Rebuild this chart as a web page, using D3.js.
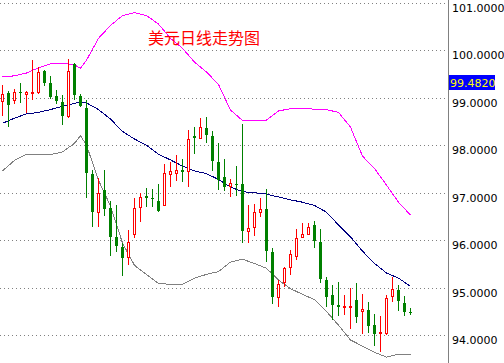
<!DOCTYPE html>
<html lang="zh">
<head>
  <meta charset="UTF-8">
  <title>美元日线走势图</title>
  <script src="https://d3js.org/d3.v7.min.js"></script>
  <style>
    body { margin: 0; background: #fff; }
  </style>
</head>
<body>
  <div class="canvas"></div>
  <script>
    const title = '美元日线走势图';
    const lastPrice = 99.482;
    const tickLabels = [94, 95, 96, 97, 98, 99, 100, 101];

    // daily candles, oldest first
    const opens  = [98.92, 99.09, 98.96, 99.11, 99.08, 99.10, 99.12, 99.56, 99.31, 99.04,
                    98.91, 98.61, 99.70, 99.04, 98.79, 97.40, 96.60, 97.05, 96.67, 96.07,
                    95.86, 95.65, 96.12, 96.70, 96.93, 96.88, 96.83, 96.74, 97.40, 97.42,
                    97.48, 97.46, 98.19, 98.16, 98.36, 98.19, 97.64, 97.34, 97.14, 97.19,
                    97.19, 96.19, 96.28, 96.60, 96.65, 95.76, 94.81, 95.11, 95.44, 95.67,
                    96.07, 96.14, 96.33, 95.96, 95.16, 94.84, 94.63, 94.59, 94.60, 94.74,
                    94.52, 94.53, 94.21, 94.04, 94.04, 94.82, 94.95, 94.67, 94.49];
    const highs  = [99.27, 99.14, 99.19, 99.32, 99.15, 99.79, 99.64, 99.59, 99.46, 99.17,
                    99.05, 99.81, 99.73, 99.07, 98.95, 97.47, 97.30, 97.48, 96.82, 96.74,
                    95.94, 96.22, 96.88, 96.99, 97.10, 97.08, 97.18, 97.61, 97.64, 97.79,
                    97.72, 98.32, 98.38, 98.58, 98.59, 98.29, 98.04, 97.70, 97.28, 97.56,
                    98.45, 96.74, 96.77, 96.88, 97.08, 95.83, 95.17, 95.44, 95.79, 96.23,
                    96.37, 96.37, 96.40, 96.24, 95.22, 95.05, 95.12, 94.84, 95.00, 95.09,
                    94.86, 94.70, 94.45, 94.41, 94.84, 95.22, 95.05, 94.83, 94.58];
    const lows   = [98.62, 98.39, 98.86, 98.88, 98.67, 98.95, 99.07, 99.24, 98.97, 98.87,
                    98.43, 98.57, 98.95, 98.80, 96.88, 96.28, 96.28, 96.50, 95.66, 95.75,
                    95.25, 95.47, 96.05, 96.39, 96.69, 96.70, 96.60, 96.72, 97.13, 97.24,
                    97.23, 97.13, 97.82, 98.12, 98.04, 97.46, 97.05, 97.03, 96.90, 96.92,
                    95.94, 95.94, 96.09, 96.48, 95.55, 94.66, 94.60, 95.02, 95.26, 95.58,
                    96.06, 96.13, 95.83, 95.09, 94.60, 94.32, 94.40, 94.42, 94.14, 94.26,
                    94.03, 94.05, 93.78, 93.65, 94.00, 94.70, 94.52, 94.40, 94.42];
    const closes = [99.07, 98.84, 99.11, 99.09, 99.11, 99.12, 99.54, 99.31, 99.02, 98.93,
                    98.62, 99.56, 99.05, 98.82, 97.42, 96.60, 97.00, 96.66, 96.07, 95.87,
                    95.63, 95.97, 96.67, 96.90, 96.88, 96.86, 96.62, 97.41, 97.45, 97.47,
                    97.44, 98.12, 98.15, 98.38, 98.21, 97.67, 97.26, 97.12, 97.21, 97.17,
                    96.19, 96.26, 96.59, 96.65, 95.77, 94.81, 95.07, 95.41, 95.70, 96.05,
                    96.12, 96.28, 95.99, 95.19, 94.81, 94.63, 94.59, 94.61, 94.62, 94.39,
                    94.55, 94.19, 94.03, 94.07, 94.79, 94.97, 94.72, 94.49, 94.47];

    // bollinger bands, read at these candle positions
    const bandIdx   = [0, 2, 4, 6, 8, 10, 12, 13, 14, 16, 18, 20, 22, 24, 26, 28, 30, 32,
                       34, 36, 38, 40, 42, 44, 46, 48, 50, 52, 54, 56, 58, 60, 62, 64, 66, 68];
    const upperBand = [99.44, 99.46, 99.52, 99.63, 99.71, 99.73, 99.69, 99.62, 99.79, 100.25,
                       100.52, 100.73, 100.79, 100.73, 100.55, 100.25, 100.04, 99.75, 99.54, 99.28,
                       98.74, 98.52, 98.51, 98.53, 98.72, 98.77, 98.77, 98.76, 98.75, 98.69,
                       98.38, 97.77, 97.51, 97.16, 96.80, 96.53];
    const midBand   = [98.46, 98.57, 98.66, 98.69, 98.75, 98.82, 98.88, 98.91, 98.89, 98.75,
                       98.55, 98.29, 98.13, 98.00, 97.81, 97.69, 97.56, 97.46, 97.40, 97.28,
                       97.12, 97.02, 97.00, 96.97, 96.91, 96.85, 96.80, 96.73, 96.59, 96.32,
                       96.07, 95.77, 95.51, 95.31, 95.20, 95.03];
    const lowerBand = [97.46, 97.68, 97.81, 97.80, 97.80, 97.86, 98.04, 98.20, 98.00, 97.26,
                       96.72, 95.94, 95.47, 95.28, 95.09, 95.07, 95.07, 95.20, 95.28, 95.34,
                       95.54, 95.60, 95.51, 95.41, 95.16, 94.98, 94.86, 94.75, 94.50, 94.21,
                       93.90, 93.77, 93.64, 93.54, 93.60, 93.60];

    const width = 504, height = 363;
    const axisX = 448;

    const svg = d3.select('.canvas')
      .append('svg')
      .attr('width', width)
      .attr('height', height)
      .style('display', 'block');

    const x = d3.scaleLinear().domain([0, opens.length - 1]).range([2.5, 410.5]);
    const y = d3.scaleLinear().domain([94, 101]).range([335.2, 2.7]);
    const px = i => Math.floor(x(i)) + 0.5;

    // dotted grid
    svg.append('g')
      .selectAll('line')
      .data(tickLabels)
      .join('line')
      .attr('x1', 0)
      .attr('x2', axisX)
      .attr('y1', d => Math.round(y(d)) + 0.5)
      .attr('y2', d => Math.round(y(d)) + 0.5)
      .attr('stroke', '#808080')
      .attr('stroke-dasharray', '1,3');

    // bands
    const bandLine = d3.line()
      .x((d, k) => x(bandIdx[k]))
      .y(d => y(d));
    [[upperBand, '#ff00ff'], [midBand, '#000080'], [lowerBand, '#808080']].forEach(([vals, col]) => {
      svg.append('path')
        .datum(vals)
        .attr('d', bandLine)
        .attr('fill', 'none')
        .attr('stroke', col)
        .attr('stroke-width', 1)
        .attr('shape-rendering', 'crispEdges');
    });

    // candles
    const candles = svg.append('g')
      .attr('shape-rendering', 'crispEdges')
      .selectAll('g')
      .data(opens.map((o, i) => ({ i, o, h: highs[i], l: lows[i], c: closes[i] })))
      .join('g');

    candles.append('line')
      .attr('x1', d => px(d.i))
      .attr('x2', d => px(d.i))
      .attr('y1', d => Math.round(y(d.h)))
      .attr('y2', d => Math.round(y(d.l)))
      .attr('stroke', d => d.c >= d.o ? '#ff0000' : '#008000');

    candles.filter(d => d.c >= d.o)
      .append('rect')
      .attr('x', d => px(d.i) - 1)
      .attr('y', d => Math.round(y(d.c)) + 0.5)
      .attr('width', 2)
      .attr('height', d => Math.max(1, Math.round(y(d.o)) - Math.round(y(d.c))))
      .attr('fill', '#fff')
      .attr('stroke', '#ff0000');

    candles.filter(d => d.c < d.o)
      .append('rect')
      .attr('x', d => Math.floor(x(d.i)) - 1)
      .attr('y', d => Math.round(y(d.o)))
      .attr('width', 3)
      .attr('height', d => Math.max(1, Math.round(y(d.c)) - Math.round(y(d.o))))
      .attr('fill', '#008000');

    // right price axis
    svg.append('line')
      .attr('x1', axisX + 0.5)
      .attr('x2', axisX + 0.5)
      .attr('y1', 0)
      .attr('y2', height)
      .attr('stroke', '#808080');

    const axis = svg.append('g')
      .attr('transform', `translate(${axisX},0)`)
      .call(d3.axisRight(y)
        .tickValues(tickLabels)
        .tickSize(0)
        .tickPadding(4)
        .tickFormat(d3.format('.4f')));
    axis.select('.domain').remove();
    axis.selectAll('text')
      .attr('dy', '0.78em')
      .attr('fill', '#000')
      .style('font-family', 'DejaVu Sans')
      .style('font-size', '11px');

    // current price tag
    const tagY = Math.round(y(lastPrice));
    svg.append('rect')
      .attr('x', axisX + 1)
      .attr('y', tagY)
      .attr('width', 46)
      .attr('height', 15)
      .attr('fill', '#0000ff');
    svg.append('text')
      .attr('x', axisX + 2)
      .attr('y', tagY + 12)
      .attr('fill', '#ffff00')
      .style('font-family', 'DejaVu Sans')
      .style('font-size', '11px')
      .text(d3.format('.4f')(lastPrice));

    svg.append('text')
      .attr('x', 148)
      .attr('y', 44)
      .attr('fill', '#ff0000')
      .style('font-family', 'Noto Sans CJK SC')
      .style('font-size', '16px')
      .text(title);
  </script>
</body>
</html>
